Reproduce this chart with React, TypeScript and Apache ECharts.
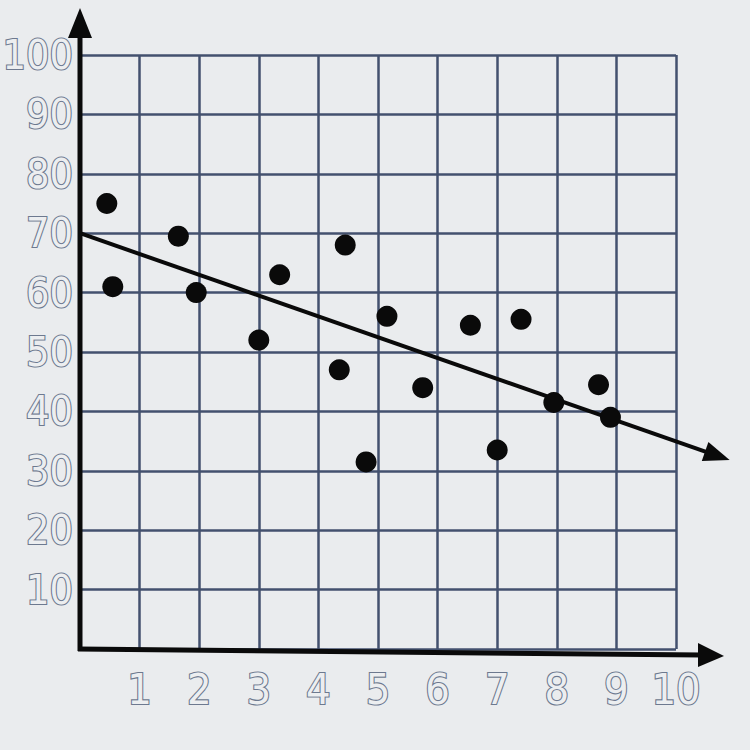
import React, { useEffect, useRef } from 'react';
import * as echarts from 'echarts';

const pointsX = [0.45, 0.55, 1.65, 1.95, 3.0, 3.35, 4.45, 4.35, 4.8, 5.15, 5.75, 6.55, 7.4, 7.0, 7.95, 8.7, 8.9];
const pointsY = [75, 61, 69.5, 60, 52, 63, 68, 47, 31.5, 56, 44, 54.5, 55.5, 33.5, 41.5, 44.5, 39];
const trendStart = [0, 70];
const trendEnd = [10.9, 31.8];
const xTickLabels = ['', '1', '2', '3', '4', '5', '6', '7', '8', '9', '10'];
const yTickLabels = ['', '10', '20', '30', '40', '50', '60', '70', '80', '90', '100'];

const GRID_COLOR = '#43516e';
const LABEL_STYLE = {
  color: '#eceef0',
  textBorderColor: '#6d798f',
  textBorderWidth: 2.2,
  fontFamily: "'DejaVu Sans Condensed', 'DejaVu Sans', sans-serif",
  fontSize: 42,
};

export default function App() {
  const ref = useRef<HTMLDivElement>(null);
  useEffect(() => {
    const chart = echarts.init(ref.current!, null, { renderer: 'svg' });
    const option: any = {
      animation: false,
      backgroundColor: '#eaecee',
      grid: { left: 80, right: 74, top: 55, bottom: 101, containLabel: false, outerBoundsMode: 'none' },
      xAxis: {
        type: 'value',
        min: 0,
        max: 10,
        interval: 1,
        axisLine: { show: false },
        axisTick: { show: false },
        splitLine: { show: true, lineStyle: { color: GRID_COLOR, width: 2.5 } },
        axisLabel: {
          ...LABEL_STYLE,
          fontSize: 43,
          margin: 18,
          formatter: (v: number) => xTickLabels[Math.round(v)] ?? '',
        },
      },
      yAxis: {
        type: 'value',
        min: 0,
        max: 100,
        interval: 10,
        axisLine: { show: false },
        axisTick: { show: false },
        splitLine: { show: true, lineStyle: { color: GRID_COLOR, width: 2.5 } },
        axisLabel: {
          ...LABEL_STYLE,
          fontSize: 41,
          margin: 7,
          formatter: (v: number) => yTickLabels[Math.round(v / 10)] ?? '',
        },
      },
      series: [
        {
          type: 'scatter',
          data: pointsX.map((x, i) => [x, pointsY[i]]),
          symbolSize: 21,
          itemStyle: { color: '#0a0a0a', opacity: 1 },
          z: 5,
        },
        {
          type: 'custom',
          clip: false,
          data: [[trendStart[0], trendStart[1], trendEnd[0], trendEnd[1]]],
          renderItem: (params: any, api: any) => {
            const p0 = api.coord([api.value(0), api.value(1)]);
            const p1 = api.coord([api.value(2), api.value(3)]);
            const dx = p1[0] - p0[0];
            const dy = p1[1] - p0[1];
            const len = Math.sqrt(dx * dx + dy * dy);
            const ux = dx / len;
            const uy = dy / len;
            const headLen = 26;
            const headHalf = 10;
            const bx = p1[0] - ux * headLen;
            const by = p1[1] - uy * headLen;
            return {
              type: 'group',
              children: [
                {
                  type: 'line',
                  shape: { x1: p0[0], y1: p0[1], x2: bx + ux * 4, y2: by + uy * 4 },
                  style: { stroke: '#0a0a0a', lineWidth: 4 },
                },
                {
                  type: 'polygon',
                  shape: {
                    points: [
                      [p1[0], p1[1]],
                      [bx - uy * headHalf, by + ux * headHalf],
                      [bx + uy * headHalf, by - ux * headHalf],
                    ],
                  },
                  style: { fill: '#0a0a0a' },
                },
              ],
            };
          },
          z: 4,
        },
      ],
    };
    chart.setOption(option);

    const o = chart.convertToPixel({ gridIndex: 0 }, [0, 0]) as number[];

    chart.setOption({
      graphic: [
        {
          type: 'line',
          shape: { x1: o[0], y1: o[1] + 2, x2: o[0], y2: 30 },
          style: { stroke: '#0a0a0a', lineWidth: 5 },
          z: 10,
        },
        {
          type: 'polygon',
          shape: { points: [[o[0] - 12, 38], [o[0], 8], [o[0] + 12, 38]] },
          style: { fill: '#0a0a0a' },
          z: 10,
        },
        {
          type: 'line',
          shape: { x1: o[0] - 2, y1: o[1], x2: 702, y2: o[1] + 6 },
          style: { stroke: '#0a0a0a', lineWidth: 5 },
          z: 10,
        },
        {
          type: 'polygon',
          shape: { points: [[698, o[1] - 6], [724, o[1] + 7], [698, o[1] + 18]] },
          style: { fill: '#0a0a0a' },
          z: 10,
        },
      ],
    });

    return () => chart.dispose();
  }, []);
  return <div ref={ref} style={{ position: 'fixed', left: 0, top: 0, width: 750, height: 750 }} />;
}
